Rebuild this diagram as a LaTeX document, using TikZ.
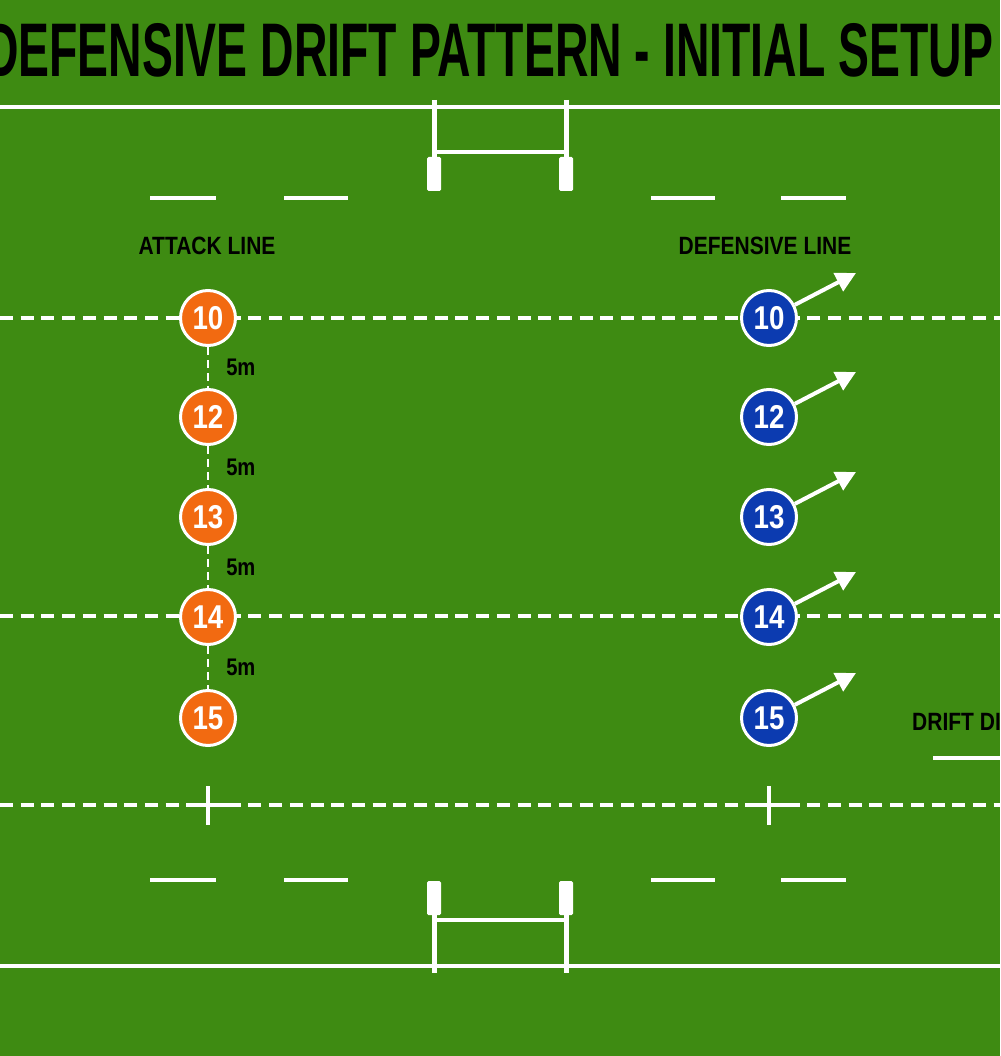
\documentclass[tikz,border=0pt]{standalone}
\usepackage{fontspec}
\usetikzlibrary{arrows.meta}
\setmainfont{Liberation Sans}
\newfontfamily\titlefont[FakeStretch=0.61]{Liberation Sans}
\newfontfamily\condfont[FakeStretch=0.84]{Liberation Sans}
\definecolor{pitch}{RGB}{62,139,18}
\definecolor{attackorange}{RGB}{242,106,17}
\definecolor{defenceblue}{RGB}{12,59,176}

\begin{document}
\begin{tikzpicture}[x=1pt, y=-1pt,
  player/.style={circle, draw=white, line width=3pt, minimum size=55pt, inner sep=0pt, text=white, font=\condfont\bfseries\fontsize{33}{33}\selectfont},
  fieldline/.style={white, line width=4pt},
  dashline/.style={white, line width=4pt, dash pattern=on 13pt off 7.7pt},
  gapline/.style={white, line width=2.5pt, dash pattern=on 8pt off 5pt},
  pad/.style={fill=white, rounded corners=1.5pt},
  lbl/.style={font=\condfont\bfseries\fontsize{25}{25}\selectfont, text=black, anchor=base},
  driftarrow/.style={white, line width=4pt, -{Triangle[length=20pt, width=20pt]}}]

  % Pitch
  \fill[pitch] (0,0) rectangle (1000,1056);
  \clip (0,0) rectangle (1000,1056);

  % Title
  \node[lbl, font=\titlefont\bfseries\fontsize{76}{76}\selectfont] (title) at (489,77) {DEFENSIVE DRIFT PATTERN - INITIAL SETUP};

  % Dead ball lines
  \draw[fieldline] (0,107) -- (1000,107);
  \draw[fieldline] (0,966) -- (1000,966);

  % Short dashes (5m / 22m marks)
  \foreach \xa/\xb in {150/216, 284/348, 651/715, 781/846} {
    \draw[fieldline] (\xa,198) -- (\xb,198);
    \draw[fieldline] (\xa,880) -- (\xb,880);
  }

  % Goal posts top
  \draw[white, line width=5pt] (434,100) -- (434,160) (566,100) -- (566,160);
  \draw[white, line width=4pt] (434,152) -- (566,152);
  \fill[pad] (427,157) rectangle (441,191);
  \fill[pad] (559,157) rectangle (573,191);

  % Goal posts bottom
  \draw[white, line width=5pt] (434,910) -- (434,973) (566,910) -- (566,973);
  \draw[white, line width=4pt] (434,920) -- (566,920);
  \fill[pad] (427,881) rectangle (441,915);
  \fill[pad] (559,881) rectangle (573,915);

  % Dashed lines across the pitch
  \draw[dashline] (0,318) -- (1000,318);
  \draw[dashline] (0,616) -- (1000,616);
  \draw[dashline] (0,805) -- (1000,805);

  % Crosses on the bottom dashed line
  \foreach \x in {208, 769} {
    \draw[fieldline] (\x,786) -- (\x,825);
    \draw[fieldline] (\x-20,805) -- (\x+21,805);
  }

  % Line headings
  \node[lbl] (attacklbl) at (207,255) {ATTACK LINE};
  \node[lbl] (defencelbl) at (765,255) {DEFENSIVE LINE};

  % Players and drift arrows
  \foreach \n/\y in {10/318, 12/417, 13/517, 14/617, 15/718} {
    \node[player, fill=attackorange] (a\n) at (208,\y) {\n};
    \node[player, fill=defenceblue] (d\n) at (769,\y) {\n};
    \coordinate (t\n) at (856,\y-45);
    \draw[driftarrow] (d\n.27) -- (t\n);
  }

  % 5m gaps in the attack line
  \foreach \p/\q in {10/12, 12/13, 13/14, 14/15} {
    \draw[gapline] (a\p) -- (a\q) node[midway, anchor=west, inner sep=0pt, xshift=17pt, text=black, font=\condfont\bfseries\fontsize{24}{24}\selectfont] (gap\p) {5m};
  }

  % Drift legend (cut off at the edge)
  \node[lbl, anchor=base west, inner sep=0pt] (driftlbl) at (912,730) {DRIFT DIRECTION};
  \coordinate (legstart) at (933,758);
  \coordinate (legend) at (1040,758);
  \draw[fieldline] (legstart) -- (legend);
\end{tikzpicture}
\end{document}
